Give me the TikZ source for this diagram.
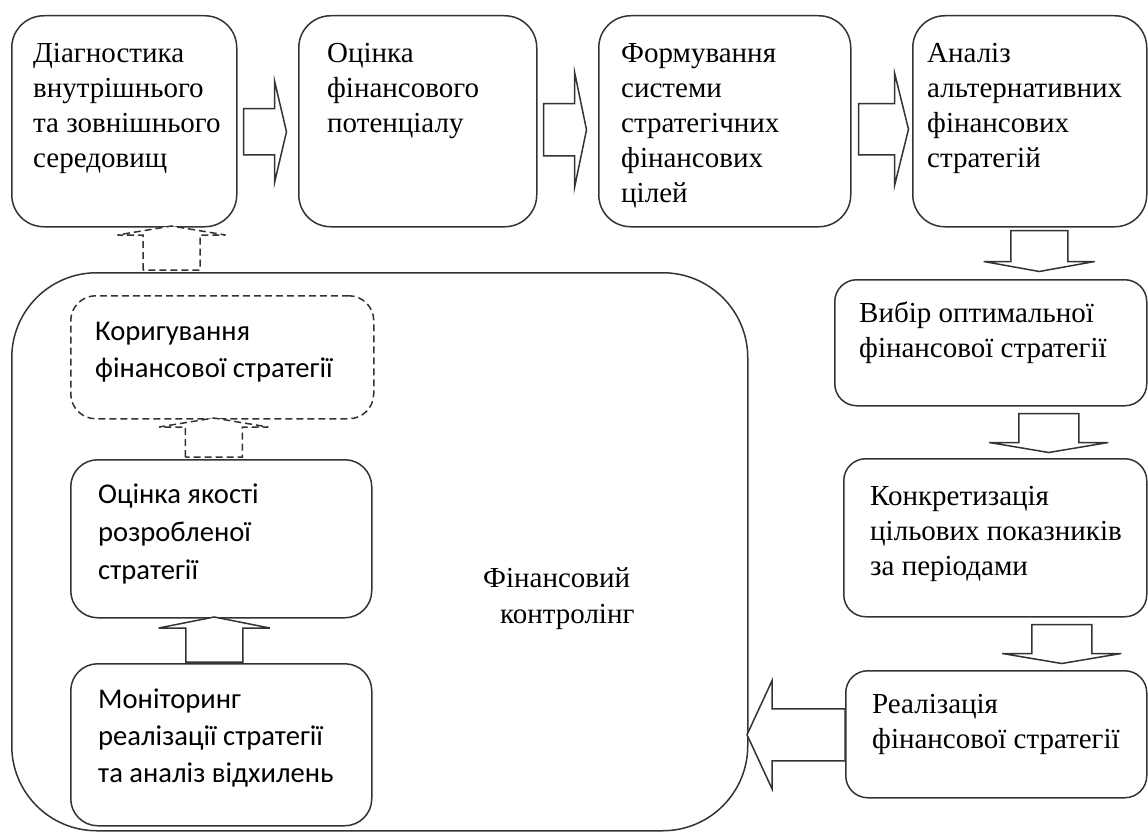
\documentclass[tikz,border=0pt]{standalone}
\usepackage{fontspec}
\setmainfont{Liberation Serif}
\newfontfamily\calfont{Carlito}
\usetikzlibrary{calc}
\newcommand\mylines[1]{\vtop{\halign{##\hfil\cr#1\crcr}}}
\tikzset{
  box/.style={draw=black!80, line width=1.5pt, anchor=north west, inner sep=0pt},
  dbox/.style={box, dash pattern=on 7pt off 4pt},
  arr/.style={draw=black!80, line width=1.5pt, fill=white, line join=miter},
  dsh/.style={dash pattern=on 7pt off 4pt},
  sertext/.style={anchor=base west, inner sep=0pt, font=\fontsize{29}{35}\selectfont},
  santext/.style={anchor=base west, inner sep=0pt, font=\calfont\fontsize{28.6}{37}\selectfont},
  pics/barrow/.style n args={4}{code={
    \draw[arr] (0,-#2) -- (#1-#4,-#2) -- (#1-#4,-#3) -- (#1,0) -- (#1-#4,#3) -- (#1-#4,#2) -- (0,#2) -- cycle;
  }}
}
\begin{document}
\begin{tikzpicture}[x=1pt, y=-1pt]
\useasboundingbox (0,0) rectangle (1148,832);
% big controlling box
\node[box, rounded corners=85pt, minimum width=736pt, minimum height=558pt] (big) at (11,272) {};
% top row
\node[box, rounded corners=32pt, minimum width=225pt, minimum height=211pt] (b1) at (11,15) {};
\node[box, rounded corners=32pt, minimum width=238pt, minimum height=211pt] (b2) at (298,15) {};
\node[box, rounded corners=32pt, minimum width=252pt, minimum height=211pt] (b3) at (598,15) {};
\node[box, rounded corners=32pt, minimum width=234pt, minimum height=211pt] (b4) at (912,15) {};
% right column
\node[box, rounded corners=22pt, minimum width=312pt, minimum height=126pt] (b5) at (834,279) {};
\node[box, rounded corners=22pt, minimum width=303pt, minimum height=158pt] (b6) at (843,458) {};
\node[box, rounded corners=22pt, minimum width=301pt, minimum height=127pt] (b7) at (845,670) {};
% left column
\node[dbox, rounded corners=25pt, minimum width=303pt, minimum height=123pt] (bk) at (70,295) {};
\node[box, rounded corners=27pt, minimum width=301pt, minimum height=158pt] (bq) at (70,459) {};
\node[box, rounded corners=27pt, minimum width=301pt, minimum height=162pt] (bm) at (70,663) {};
% texts
\node[sertext] (t1) at ($(b1.north west)+(22,48)$) {\mylines{Діагностика\cr внутрішнього\cr та зовнішнього\cr середовищ}};
\node[sertext] (t2) at ($(b2.north west)+(29,48)$) {\mylines{Оцінка\cr фінансового\cr потенціалу}};
\node[sertext] (t3) at ($(b3.north west)+(23,48)$) {\mylines{Формування\cr системи\cr стратегічних\cr фінансових\cr цілей}};
\node[sertext] (t4) at ($(b4.north west)+(15,48)$) {\mylines{Аналіз\cr альтернативних\cr фінансових\cr стратегій}};
\node[sertext] (t5) at ($(b5.north west)+(25,43)$) {\mylines{Вибір оптимальної\cr фінансової стратегії}};
\node[sertext] (t6) at ($(b6.north west)+(27,47)$) {\mylines{Конкретизація\cr цільових показників\cr за періодами}};
\node[sertext] (t7) at ($(b7.north west)+(27,43)$) {\mylines{Реалізація\cr фінансової стратегії}};
\node[santext] (tk) at ($(bk.north west)+(25,45)$) {\mylines{Коригування\cr фінансової стратегії}};
\node[santext, font=\calfont\fontsize{28.6}{38}\selectfont] (tq) at ($(bq.north west)+(28,44)$) {\mylines{Оцінка якості\cr розробленої\cr стратегії}};
\node[santext] (tm) at ($(bm.north west)+(28,45)$) {\mylines{Моніторинг\cr реалізації стратегії\cr та аналіз відхилень}};
\node[sertext, font=\fontsize{29}{36}\selectfont] (tf) at ($(big.north west)+(472,315)$) {\mylines{Фінансовий\cr \hskip17pt контролінг}};
% block arrows
\pic at ($(b1.east)+(6,10.5)$) {barrow={43}{23}{51}{12}};
\pic at ($(b2.east)+(6,8.5)$) {barrow={43}{26}{58}{12}};
\pic at ($(b3.east)+(7,8)$) {barrow={50}{25.5}{56.5}{14}};
\pic[rotate=-90] at ($(b4.south)+(9.5,3)$) {barrow={41}{28.5}{55.5}{10}};
\pic[rotate=-90] at ($(b5.south)+(58,7)$) {barrow={39}{30}{59.5}{10}};
\pic[rotate=-90] at ($(b6.south)+(66.5,7)$) {barrow={39}{30}{59.5}{10}};
\pic[rotate=180] at ($(b7.west)+(0,0.5)$) {barrow={98}{26}{54}{25}};
\pic[rotate=90] at ($(bm.north)+(-7,-1)$) {barrow={45}{28.5}{55.5}{11}};
\pic[rotate=90, dsh] at ($(bq.north)+(-7.5,-2)$) {barrow={39}{28.5}{54.5}{9}};
\pic[rotate=90, dsh] at ($(big.north west)+(160.5,-2)$) {barrow={44}{28.5}{54}{9}};
\end{tikzpicture}
\end{document}
